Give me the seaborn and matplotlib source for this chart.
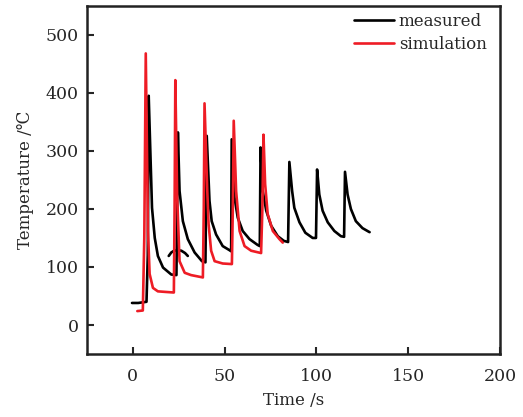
import numpy as np
import pandas as pd
import matplotlib
matplotlib.use("Agg")
import matplotlib.pyplot as plt
import seaborn as sns

# =====================================================
# DATA
# =====================================================
meas_time = [-0.4, 3, 7.5, 8.2, 8.7, 9.8, 10.5, 12, 13.7, 16.5, 21, 23.8,
             24.6, 25.5, 27.3, 30, 33.7, 37.7, 39.6,
             40.3, 41.8, 43, 45.4, 49, 53.2, 53.6,
             53.9, 55.4, 57.2, 59.9, 63.6, 68, 69.2,
             69.6, 70.8, 72.7, 75.4, 79, 82.3, 84.6,
             85.3, 86.8, 88, 90.8, 94, 98, 99.8,
             100.4, 101.6, 103.4, 106.2, 109.8, 113.4, 115.1,
             115.6, 117, 118.8, 121.5, 125.1, 128.4, 129]
meas_temp = [38, 38, 40, 120, 395, 277, 202, 150, 119, 99, 87, 86,
             332, 231, 179, 148, 125, 110, 108,
             326, 214, 179, 156, 136, 128, 127,
             320, 220, 185, 162, 148, 138, 136,
             306, 231, 197, 171, 153, 145, 143,
             281, 231, 202, 177, 159, 150, 150,
             268, 225, 197, 177, 162, 153, 152,
             264, 225, 200, 179, 167, 161, 160]

# the small arc of the measured curve near t = 20..30 s
arc_time = [19.6, 21, 22.5, 24.5, 26.5, 28.5, 30]
arc_temp = [119, 125, 128, 129, 128, 124, 119]

sim_time = [2.5, 5.5, 6.3, 7.1, 8.3, 9.2, 11, 13.7, 18, 22.4,
            22.8, 23.2, 24.2, 25.5, 28.3, 31.8, 38.2,
            38.7, 39.1, 40.6, 41.3, 42.7, 44.6, 49, 54,
            54.5, 55, 56.3, 58.2, 60.9, 64.5, 69.9,
            70.6, 71.2, 72.1, 73.5, 76.3, 79.9, 81.7]
sim_temp = [24, 25, 150, 468, 162, 88, 64, 58, 57, 56,
            200, 422, 220, 110, 90, 86, 82,
            200, 382, 231, 174, 128, 110, 106, 105,
            200, 352, 231, 162, 136, 128, 124,
            200, 328, 243, 191, 162, 148, 142]

x_ticks = [0, 50, 100, 150, 200]
y_ticks = [0, 100, 200, 300, 400, 500]

# =====================================================
# TABLE FOR SEABORN
# =====================================================
df = pd.concat([
    pd.DataFrame({"time": meas_time, "temp": meas_temp,
                  "series": "measured", "seg": "m1"}),
    pd.DataFrame({"time": arc_time, "temp": arc_temp,
                  "series": "measured", "seg": "m2"}),
    pd.DataFrame({"time": sim_time, "temp": sim_temp,
                  "series": "simulation", "seg": "s1"}),
], ignore_index=True)

# =====================================================
# PLOT
# =====================================================
sns.set_style("ticks")
plt.rcParams["font.family"] = ["DejaVu Serif", "DejaVu Sans"]

fig = plt.figure(figsize=(5.23, 4.17), dpi=100)
ax = fig.add_axes([0.166, 0.151, 0.790, 0.835])

sns.lineplot(data=df, x="time", y="temp", hue="series", units="seg",
             estimator=None, sort=False, ax=ax, linewidth=1.9,
             palette={"measured": "black", "simulation": "#ee1c25"})

ax.set_xlim(-25, 200)
ax.set_ylim(-50, 550)
ax.set_xticks(x_ticks)
ax.set_yticks(y_ticks)
ax.set_xlabel("Time /s", fontsize=12, labelpad=5)
ax.set_ylabel("Temperature /℃", fontsize=12, labelpad=8)
ax.tick_params(axis="x", pad=10)
ax.tick_params(axis="y", pad=6)
ax.tick_params(direction="in", length=5, width=1.5, labelsize=12.5,
               top=False, right=False)
for sp in ax.spines.values():
    sp.set_linewidth(1.8)
    sp.set_color("#222222")

leg = ax.legend(loc="upper right", bbox_to_anchor=(0.98, 0.995),
                frameon=False, fontsize=12,
                handlelength=2.4, borderaxespad=0.0, labelspacing=0.4,
                handletextpad=0.3, borderpad=0.3)

fig.savefig("out.png", dpi=100)
